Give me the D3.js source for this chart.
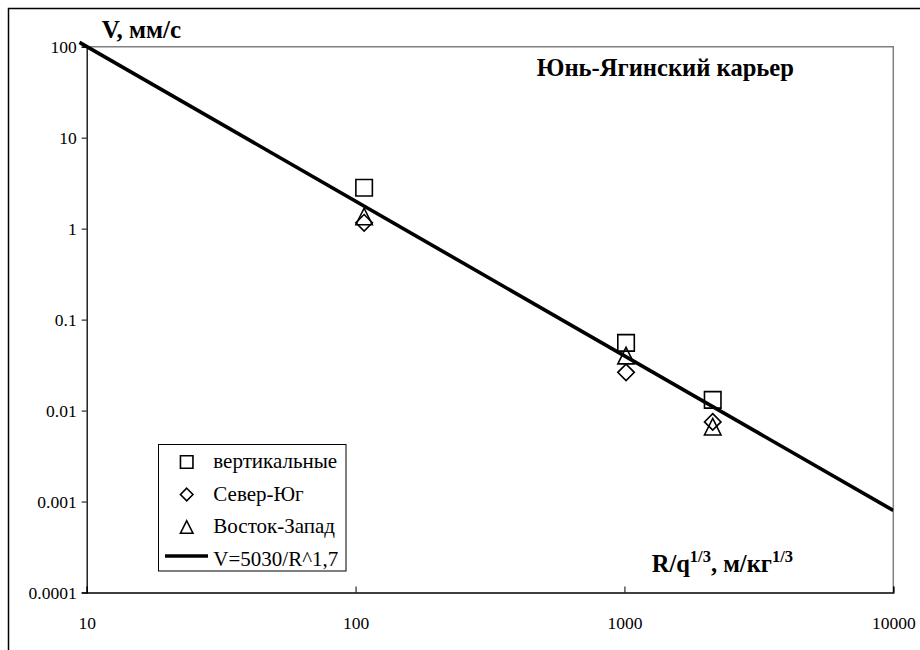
<!DOCTYPE html>
<html>
<head>
<meta charset="utf-8">
<script src="https://cdn.jsdelivr.net/npm/d3@7"></script>
</head>
<body style="margin:0">
<svg id="chart" width="920" height="650" font-family="Liberation Serif"></svg>
<script>
// Scaled distance R/q^(1/3), m/kg^(1/3), for the three measurement groups
const distances = [107.6, 1014, 2130];
// Peak particle velocity, mm/s, per component
const vertical   = [2.82, 0.0555, 0.0131];
const northSouth = [1.16, 0.0263, 0.0075];
const eastWest   = [1.36, 0.0402, 0.00665];
// Fitted attenuation law V = 5030 / R^1.7
const fitK = 5030, fitN = 1.7;
const fitR = [9.4, 10000];

const xTicks = [10, 100, 1000, 10000];
const yTicks = [0.0001, 0.001, 0.01, 0.1, 1, 10, 100];
const xTickLabels = ["10", "100", "1000", "10000"];
const yTickLabels = ["0.0001", "0.001", "0.01", "0.1", "1", "10", "100"];

const legendItems = [
  { label: "вертикальные", symbol: "square" },
  { label: "Север-Юг", symbol: "diamond" },
  { label: "Восток-Запад", symbol: "triangle" },
  { label: "V=5030/R^1,7", symbol: "line" }
];

const FONT = "Liberation Serif";
const svg = d3.select("#chart");
const plot = { left: 86.7, right: 893.3, top: 46.7, bottom: 592.5 };

const x = d3.scaleLog().domain([10, 10000]).range([plot.left, plot.right]);
const y = d3.scaleLog().domain([0.0001, 100]).range([plot.bottom, plot.top]);

// outer chart frame
svg.append("rect")
  .attr("x", 8.5).attr("y", 8.5).attr("width", 930).attr("height", 660)
  .attr("fill", "none").attr("stroke", "#000").attr("stroke-width", 1.5);

// plot area frame: grey top/right edges
svg.append("path")
  .attr("d", `M${plot.left},${plot.top}H${plot.right}V${plot.bottom}`)
  .attr("fill", "none").attr("stroke", "#808080").attr("stroke-width", 1.5);

// y axis
const yAxis = d3.axisLeft(y).tickValues(yTicks)
  .tickFormat((d, i) => yTickLabels[i]).tickSize(5).tickPadding(5);
const gy = svg.append("g").attr("transform", `translate(${plot.left},0)`).call(yAxis);
gy.attr("font-family", FONT).attr("font-size", 17.5);
gy.select(".domain").attr("stroke", "#000").attr("stroke-width", 1.3);
gy.selectAll(".tick line").attr("stroke", "#000").attr("stroke-width", 1);
gy.selectAll(".tick text").attr("dy", "0.33em").attr("fill", "#000")
  .attr("font-family", FONT).attr("font-size", 17.5);

// x axis with inward ticks
const xAxis = d3.axisBottom(x).tickValues(xTicks)
  .tickFormat((d, i) => xTickLabels[i]).tickSize(-6).tickPadding(24.3);
const gx = svg.append("g").attr("transform", `translate(0,${plot.bottom})`).call(xAxis);
gx.attr("font-family", FONT).attr("font-size", 17.5);
gx.select(".domain").attr("stroke", "#000").attr("stroke-width", 1.3);
gx.selectAll(".tick line").attr("stroke", "#000").attr("stroke-width", 1);
gx.selectAll(".tick text").attr("fill", "#000")
  .attr("font-family", FONT).attr("font-size", 17.5);

// fitted power law
svg.append("defs").append("clipPath").attr("id", "plotClip")
  .append("rect").attr("x", 0).attr("y", 0).attr("width", plot.right).attr("height", plot.bottom);
const line = d3.line().x(d => x(d)).y(d => y(fitK / Math.pow(d, fitN)));
svg.append("path")
  .attr("clip-path", "url(#plotClip)")
  .attr("d", line(fitR))
  .attr("fill", "none").attr("stroke", "#000").attr("stroke-width", 3.6);

// marker shapes
function markerPath(kind, s) {
  const h = s / 2;
  if (kind === "square") return `M${-h},${-h}H${h}V${h}H${-h}Z`;
  if (kind === "diamond") return `M0,${-h}L${h},0L0,${h}L${-h},0Z`;
  return `M0,${-h}L${h},${h}L${-h},${h}Z`;
}

const seriesList = [
  { values: vertical, symbol: "square" },
  { values: eastWest, symbol: "triangle" },
  { values: northSouth, symbol: "diamond" }
];
seriesList.forEach(s => {
  svg.append("g").selectAll("path").data(s.values).join("path")
    .attr("transform", (d, i) => `translate(${x(distances[i])},${y(d)})`)
    .attr("d", markerPath(s.symbol, 16.5))
    .attr("fill", "none").attr("stroke", "#000").attr("stroke-width", 1.6);
});

function label(xp, yp, size, bold) {
  const t = svg.append("text").attr("x", xp).attr("y", yp)
    .attr("font-family", FONT).attr("font-size", size).attr("fill", "#000");
  if (bold) t.attr("font-weight", "bold");
  return t;
}

// chart caption
label(536.7, 76, 24.6, true).text("Юнь-Ягинский карьер");

// axis titles
label(101.7, 37.5, 25, true).text("V, мм/с");

const xt = label(651.7, 571.5, 24.5, true);
xt.append("tspan").text("R/q");
xt.append("tspan").attr("font-size", 16.5).attr("dy", -10).text("1/3");
xt.append("tspan").attr("dy", 10).text(", м/кг");
xt.append("tspan").attr("font-size", 16.5).attr("dy", -10).text("1/3");

// legend
const lg = svg.append("g");
lg.append("rect").attr("x", 158.5).attr("y", 444.5).attr("width", 187.5).attr("height", 126.5)
  .attr("fill", "#fff").attr("stroke", "#000").attr("stroke-width", 1);
const rowY = d3.scalePoint().domain(d3.range(legendItems.length)).range([468, 565.5]);
legendItems.forEach((item, i) => {
  const by = rowY(i);
  if (item.symbol === "line") {
    lg.append("line").attr("x1", 165).attr("x2", 208).attr("y1", by - 9.5).attr("y2", by - 9.5)
      .attr("stroke", "#000").attr("stroke-width", 3.6);
  } else {
    lg.append("path").attr("transform", `translate(186.7,${by - 6})`)
      .attr("d", markerPath(item.symbol, 12.5))
      .attr("fill", "none").attr("stroke", "#000").attr("stroke-width", 1.6);
  }
  label(213.3, by, 21, false).text(item.label);
});
</script>
</body>
</html>
